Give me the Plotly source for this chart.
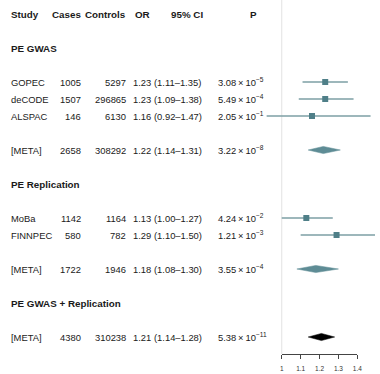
import plotly.graph_objects as go

# ---------------- data ----------------
study = ["GOPEC", "deCODE", "ALSPAC", "[META]", "MoBa", "FINNPEC", "[META]", "[META]"]
cases = [1005, 1507, 146, 2658, 1142, 580, 1722, 4380]
controls = [5297, 296865, 6130, 308292, 1164, 782, 1946, 310238]
odds = [1.23, 1.23, 1.16, 1.22, 1.13, 1.29, 1.18, 1.21]
ci_lo = [1.11, 1.09, 0.92, 1.14, 1.00, 1.10, 1.08, 1.14]
ci_hi = [1.35, 1.38, 1.47, 1.31, 1.27, 1.50, 1.30, 1.28]
p_mant = ["3.08", "5.49", "2.05", "3.22", "4.24", "1.21", "3.55", "5.38"]
p_exp = [-5, -4, -1, -8, -2, -3, -4, -11]
kind = ["study", "study", "study", "meta", "study", "study", "meta", "final"]
row = [4, 5, 6, 8, 12, 13, 15, 19]
sections = ["PE GWAS", "PE Replication", "PE GWAS + Replication"]
section_row = [2, 10, 17]
headers = ["Study", "Cases", "Controls", "OR", "95% CI", "P"]
tick_vals = [1, 1.1, 1.2, 1.3, 1.4]
tick_text = ["1", "1.1", "1.2", "1.3", "1.4"]
NULL_OR = 1

# ---------------- style ----------------
W, H = 380, 374
FONT = "Liberation Sans, Arial, sans-serif"
FS = 9.4
FSB = 9.8
TXT = "#1a1a1a"
SQ_COL = "#4f7f88"
LINE_COL = "#7d9fa5"
DIA_COL = "#5e8c95"
ROW0_PX, ROW_PX = 14, 17.0
AX_PX = 354

def px2paper(px):
    return px / W

fig = go.Figure()

for i in range(len(study)):
    if kind[i] == "study":
        fig.add_trace(go.Scatter(x=[ci_lo[i], ci_hi[i]], y=[row[i], row[i]], mode="lines",
                                 line=dict(color=LINE_COL, width=1.3), hoverinfo="skip",
                                 showlegend=False))
st = [i for i in range(len(study)) if kind[i] == "study"]
fig.add_trace(go.Scatter(x=[odds[i] for i in st], y=[row[i] for i in st], mode="markers",
                         marker=dict(symbol="square", size=6, color=SQ_COL),
                         showlegend=False))
DH = 0.21
for i in range(len(study)):
    if kind[i] != "study":
        col = "#000000" if kind[i] == "final" else DIA_COL
        fig.add_trace(go.Scatter(
            x=[ci_lo[i], odds[i], ci_hi[i], odds[i], ci_lo[i]],
            y=[row[i], row[i] - DH, row[i], row[i] + DH, row[i]],
            mode="lines", fill="toself", fillcolor=col,
            line=dict(color=col, width=0.5), showlegend=False, hoverinfo="skip"))

fig.add_trace(go.Scatter(x=[tick_vals[0], tick_vals[-1]], y=[0, 0], xaxis="x2", yaxis="y",
                         mode="markers", marker=dict(opacity=0), showlegend=False,
                         hoverinfo="skip"))

unit = (362 - 285) / 0.4
x_min = NULL_OR - 285 / unit
x_max = NULL_OR + (W - 285) / unit
y_top = -ROW0_PX / ROW_PX
y_bot = (H - ROW0_PX) / ROW_PX

fig.add_shape(type="line", x0=NULL_OR, x1=NULL_OR, xref="x", yref="paper",
              y0=(H - AX_PX) / H, y1=1, line=dict(color="#e2e2e2", width=1), layer="below")

ann = []
def add(txt, xpx, r, anchor, bold=False):
    ann.append(dict(text=("<b>%s</b>" % txt) if bold else txt, x=px2paper(xpx), xref="paper",
                    y=r, yref="y", xanchor=anchor, yanchor="middle", showarrow=False,
                    font=dict(family=FONT, size=FSB if bold else FS, color=TXT)))

add("Study", 7, 0, "left", True)
add("Cases", 83, 0, "right", True)
add("Controls", 128, 0, "right", True)
add("OR", 153, 0, "right", True)
add("95% CI", 207, 0, "right", True)
add("P", 262, 0, "right", True)

for s, r in zip(sections, section_row):
    add(s, 7, r, "left", True)

for i in range(len(study)):
    add(study[i], 7, row[i], "left")
    add(str(cases[i]), 83, row[i], "right")
    add(str(controls[i]), 128, row[i], "right")
    add("%.2f" % odds[i], 131, row[i], "left")
    add("(%.2f\u2013%.2f)" % (ci_lo[i], ci_hi[i]), 153, row[i], "left")
    add("%s\u2009\u00d7\u200910<sup>\u2212%d</sup>" % (p_mant[i], -p_exp[i]), 218, row[i], "left")

fig.update_layout(
    width=W, height=H, margin=dict(l=0, r=0, t=0, b=0),
    paper_bgcolor="white", plot_bgcolor="rgba(0,0,0,0)",
    annotations=ann,
    xaxis=dict(range=[x_min, x_max], domain=[0, 1], visible=False, fixedrange=True),
    xaxis2=dict(range=[tick_vals[0], tick_vals[-1]], domain=[285 / W, 362 / W],
                anchor="free", position=(H - AX_PX) / H,
                showline=True, linecolor="#444", linewidth=1, ticks="outside",
                ticklen=4, tickcolor="#444", tickvals=tick_vals, ticktext=tick_text,
                tickfont=dict(family=FONT, size=6.5, color="#333"), showgrid=False,
                zeroline=False, ticklabelstandoff=4, fixedrange=True),
    yaxis=dict(range=[y_bot, y_top], domain=[0, 1], visible=False, fixedrange=True),
)

fig.write_html("out.html", config={"displayModeBar": False},
               post_script="document.body.style.margin='0';document.body.style.overflow='hidden';")
